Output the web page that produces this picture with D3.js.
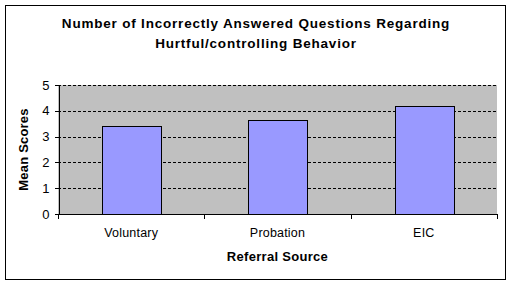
<!DOCTYPE html>
<html lang="en">
<head>
<meta charset="UTF-8">
<title>Incorrectly Answered Questions</title>
<script src="https://d3js.org/d3.v7.min.js"></script>
<style>
  body { margin: 0; background: #fff; }
  svg { display: block; font-family: "Liberation Sans", Arial, sans-serif; }
  .axis path, .axis line { stroke: #000; shape-rendering: crispEdges; }
  .axis text { font-size: 12px; fill: #000; }
</style>
</head>
<body>
<div id="chart"></div>
<script>
// chart data
const categories = ['Voluntary', 'Probation', 'EIC'];
const meanScores = [3.40, 3.63, 4.17];
const yTicks = [0, 1, 2, 3, 4, 5];
const titleLines = ['Number of Incorrectly Answered Questions Regarding', 'Hurtful/controlling Behavior'];

const W = 512, H = 284;
const plot = { left: 58, top: 85, right: 497, bottom: 214 };

const svg = d3.select('#chart').append('svg')
    .attr('width', W)
    .attr('height', H);

// outer frame
svg.append('rect')
    .attr('x', 5.5).attr('y', 5.5)
    .attr('width', 500).attr('height', 274)
    .attr('fill', '#fff')
    .attr('stroke', '#000');

const x = d3.scaleBand().domain(categories).range([plot.left, plot.right]).paddingInner(0).paddingOuter(0);
const y = d3.scaleLinear().domain([0, 5]).range([plot.bottom, plot.top]);

// plot background
svg.append('rect')
    .attr('x', plot.left).attr('y', plot.top)
    .attr('width', plot.right - plot.left).attr('height', plot.bottom - plot.top)
    .attr('fill', '#c0c0c0');

// dashed gridlines
svg.append('g')
    .selectAll('line')
    .data(yTicks.filter(d => d > 0))
  .enter().append('line')
    .attr('x1', plot.left).attr('x2', plot.right)
    .attr('y1', d => Math.round(y(d)) + 0.5).attr('y2', d => Math.round(y(d)) + 0.5)
    .attr('stroke', '#000')
    .attr('stroke-dasharray', '3,2');

// bars
const barW = x.bandwidth() * 0.4;
svg.append('g')
    .selectAll('rect')
    .data(categories)
  .enter().append('rect')
    .attr('x', d => Math.round(x(d) + (x.bandwidth() - barW) / 2) + 0.5)
    .attr('y', (d, i) => Math.round(y(meanScores[i])) + 0.5)
    .attr('width', Math.round(barW))
    .attr('height', (d, i) => plot.bottom - Math.round(y(meanScores[i])))
    .attr('fill', '#9999ff')
    .attr('stroke', '#000');

// y axis
svg.append('g')
    .attr('class', 'axis')
    .attr('transform', `translate(${plot.left + 0.5},0)`)
    .call(d3.axisLeft(y).tickValues(yTicks).tickFormat(d3.format('d')).tickSize(4).tickSizeOuter(0).tickPadding(5))
    .call(g => g.selectAll('text').style('font-size', '13px'));

// x axis with ticks at category boundaries
svg.append('g')
    .attr('class', 'axis')
    .attr('transform', `translate(0,${plot.bottom + 0.5})`)
    .call(d3.axisBottom(x).tickSize(0).tickSizeOuter(0).tickPadding(14))
    .call(g => g.select('.domain').attr('d', `M${plot.left},0H${plot.right}`))
    .call(g => g.selectAll('text').style('font-size', '12.5px').style('letter-spacing', '0.2px'));

svg.append('g')
    .selectAll('line')
    .data(categories.concat(['end']))
  .enter().append('line')
    .attr('x1', (d, i) => Math.round(plot.left + i * x.step()) + 0.5)
    .attr('x2', (d, i) => Math.round(plot.left + i * x.step()) + 0.5)
    .attr('y1', plot.bottom)
    .attr('y2', plot.bottom + 5)
    .attr('stroke', '#000');

// axis titles
svg.append('text')
    .attr('x', (plot.left + plot.right) / 2)
    .attr('y', 261)
    .attr('text-anchor', 'middle')
    .style('font-size', '13px')
    .style('font-weight', 'bold')
    .style('letter-spacing', '0.3px')
    .text('Referral Source');

svg.append('text')
    .attr('transform', `translate(28,${(plot.top + plot.bottom) / 2}) rotate(-90)`)
    .attr('text-anchor', 'middle')
    .style('font-size', '13px')
    .style('font-weight', 'bold')
    .style('letter-spacing', '0.2px')
    .text('Mean Scores');

// title
svg.append('g')
    .selectAll('text')
    .data(titleLines)
  .enter().append('text')
    .attr('x', 256)
    .attr('y', (d, i) => 28 + i * 20)
    .attr('text-anchor', 'middle')
    .style('font-size', '13.5px')
    .style('font-weight', 'bold')
    .style('letter-spacing', '0.8px')
    .text(d => d);
</script>
</body>
</html>
